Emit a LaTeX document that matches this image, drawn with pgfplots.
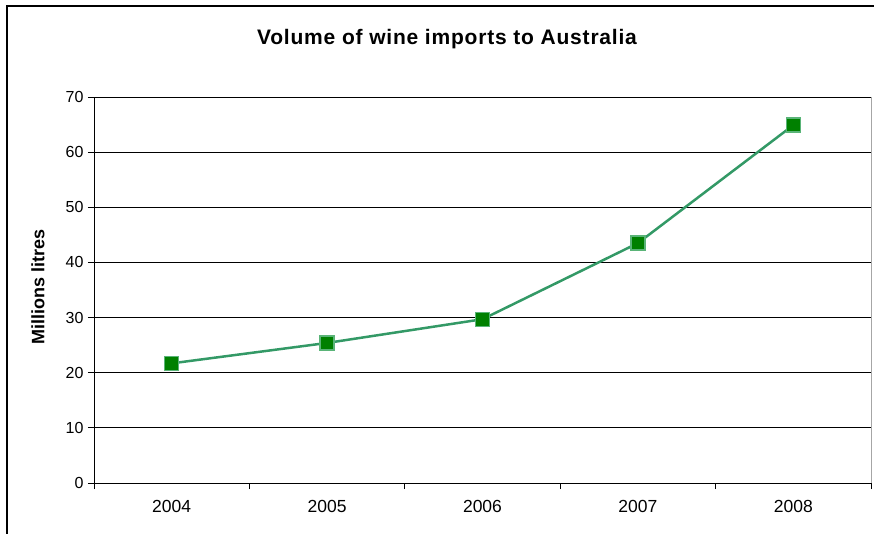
\documentclass[border=0pt]{standalone}
\usepackage{fontspec}
\setmainfont{Liberation Sans}
\usepackage{pgfplots}
\pgfplotsset{compat=1.18}
\definecolor{linegreen}{RGB}{51,153,102}
\definecolor{markfill}{RGB}{0,128,0}
\definecolor{markedge}{RGB}{90,180,120}
\begin{document}
\begin{tikzpicture}[x=1pt,y=1pt]
\useasboundingbox (-94,-50) rectangle (780,483);
\begin{axis}[
  at={(0,0)}, anchor=south west,
  scale only axis, width=777pt, height=386pt,
  xmin=-0.5, xmax=4.5, ymin=0, ymax=70,
  xtick={0,1,2,3,4},
  xticklabels={2004,2005,2006,2007,2008},
  minor xtick={-0.5,0.5,1.5,2.5,3.5,4.5},
  ytick={0,10,...,70},
  axis lines*=left,
  axis line style={-, black, line width=0.8pt},
  tick align=outside,
  major tick length=6pt,
  minor tick length=6pt,
  x tick style={draw=none},
  minor x tick style={draw=black, line width=0.8pt},
  y tick style={black, line width=0.8pt},
  ymajorgrids,
  major grid style={black, line width=0.8pt},
  /pgf/number format/assume math mode=true,
  xticklabel style={font=\fontsize{17.5}{20}\selectfont, yshift=-8pt},
  yticklabel style={font=\fontsize{16}{19}\selectfont, xshift=-1pt},
  clip=false,
]
\draw[gray!70, line width=1pt] (axis cs:4.5,0) -- (axis cs:4.5,70);
\addplot[color=linegreen, line width=2.5pt, mark=square*, mark size=7pt,
  mark options={fill=markfill, draw=markedge, line width=1.4pt}]
  coordinates {(0,21.7) (1,25.4) (2,29.7) (3,43.5) (4,64.9)};
\end{axis}
\draw[black, line width=1.6pt] (-87,-80) rectangle (800,477);
\node[font=\bfseries\fontsize{21}{25}\selectfont\addfontfeature{LetterSpace=3.8}] at (353,444) {Volume of wine imports to Australia};
\node[rotate=90, font=\bfseries\fontsize{18}{21}\selectfont] at (-56,196) {Millions litres};
\end{tikzpicture}
\end{document}
